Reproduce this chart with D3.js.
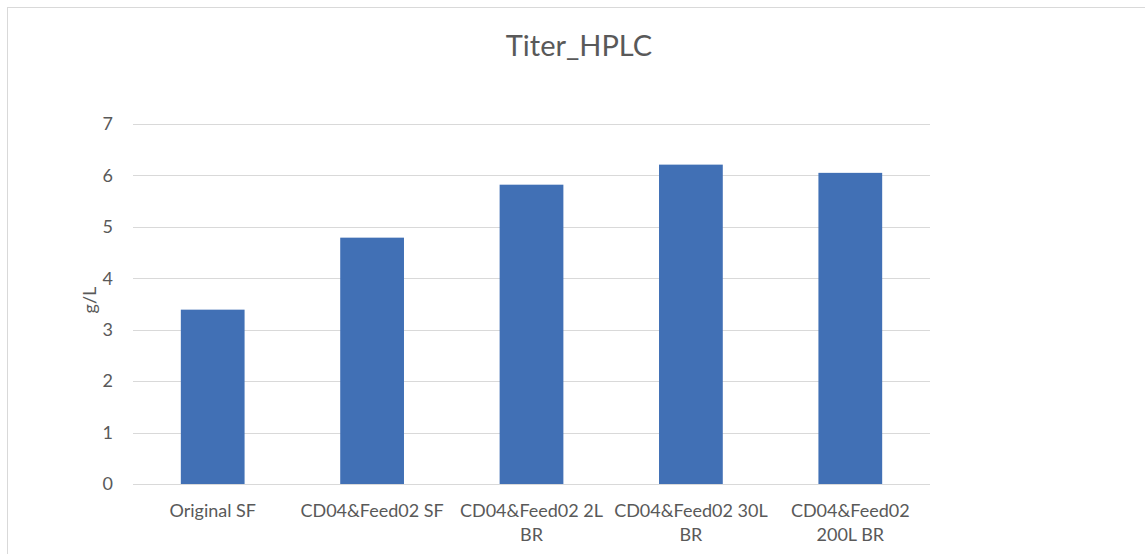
<!DOCTYPE html>
<html>
<head>
<meta charset="utf-8">
<script src="https://cdn.jsdelivr.net/npm/d3@7"></script>
<style>
  body { margin: 0; background: #fff; }
  text { font-family: Lato, "Open Sans", sans-serif; fill: #595959; }
</style>
</head>
<body>
<div class="chart"></div>
<script>
var categories = ["Original SF", "CD04&Feed02 SF", "CD04&Feed02 2L BR", "CD04&Feed02 30L BR", "CD04&Feed02 200L BR"];
// tick labels as they wrap in the picture
var tickLabels = [["Original SF"], ["CD04&Feed02 SF"], ["CD04&Feed02 2L", "BR"], ["CD04&Feed02 30L", "BR"], ["CD04&Feed02", "200L BR"]];
var titer = [3.39, 4.79, 5.82, 6.21, 6.05];
var yTicks = [0, 1, 2, 3, 4, 5, 6, 7];

var svgWidth = 1145;
var svgHeight = 554;

var margin = { top: 124, right: 215, bottom: 70, left: 133 };
var width = 930 - margin.left;
var height = 484 - margin.top;

var svg = d3.select(".chart")
  .append("svg")
  .attr("width", svgWidth)
  .attr("height", svgHeight);

// chart border
svg.append("rect")
  .attr("x", 7.5)
  .attr("y", 7.5)
  .attr("width", svgWidth)
  .attr("height", svgHeight)
  .attr("fill", "none")
  .attr("stroke", "#d9d9d9");

var chartGroup = svg.append("g")
  .attr("transform", `translate(${margin.left}, ${margin.top})`);

var x = d3.scaleBand()
  .domain(categories)
  .range([0, width])
  .paddingInner(0.6)
  .paddingOuter(0.3);

var y = d3.scaleLinear()
  .domain([0, 7])
  .range([height, 0]);

// gridlines
chartGroup.selectAll(".grid")
  .data(yTicks)
  .enter()
  .append("line")
  .attr("x1", 0)
  .attr("x2", width)
  .attr("y1", d => Math.round(y(d)) + 0.5)
  .attr("y2", d => Math.round(y(d)) + 0.5)
  .attr("stroke", "#d9d9d9")
  .attr("stroke-width", 1);

// y axis labels
var leftAxis = d3.axisLeft(y).tickValues(yTicks).tickFormat(d3.format("d")).tickSize(0).tickPadding(20);
var yAxis = chartGroup.append("g").call(leftAxis);
yAxis.select(".domain").remove();
yAxis.selectAll("text")
  .style("font-size", "18px")
  .style("font-family", "Lato, sans-serif")
  .attr("fill", "#595959");

// bars
chartGroup.selectAll(".bar")
  .data(titer)
  .enter()
  .append("rect")
  .attr("x", (d, i) => x(categories[i]))
  .attr("y", d => y(d))
  .attr("width", x.bandwidth())
  .attr("height", d => height - y(d))
  .attr("fill", "#4170b5");

// x axis labels
var bottomAxis = d3.axisBottom(x).tickSize(0).tickFormat("");
var xAxis = chartGroup.append("g")
  .attr("transform", `translate(0, ${height})`)
  .call(bottomAxis);
xAxis.select(".domain").remove();

xAxis.selectAll(".tick")
  .each(function(d, i) {
    var t = d3.select(this).append("text")
      .attr("text-anchor", "middle")
      .style("font-size", "18px")
      .style("font-family", "Lato, sans-serif")
      .attr("fill", "#595959");
    tickLabels[i].forEach(function(line, j) {
      t.append("tspan")
        .attr("x", 0)
        .attr("y", 33 + j * 24)
        .text(line);
    });
  });

// y axis title
svg.append("text")
  .attr("transform", "translate(96, 300) rotate(-90)")
  .attr("text-anchor", "middle")
  .style("font-size", "18px")
  .text("g/L");

// chart title
svg.append("text")
  .attr("x", 579)
  .attr("y", 56)
  .attr("text-anchor", "middle")
  .style("font-size", "29px")
  .text("Titer_HPLC");
</script>
</body>
</html>
